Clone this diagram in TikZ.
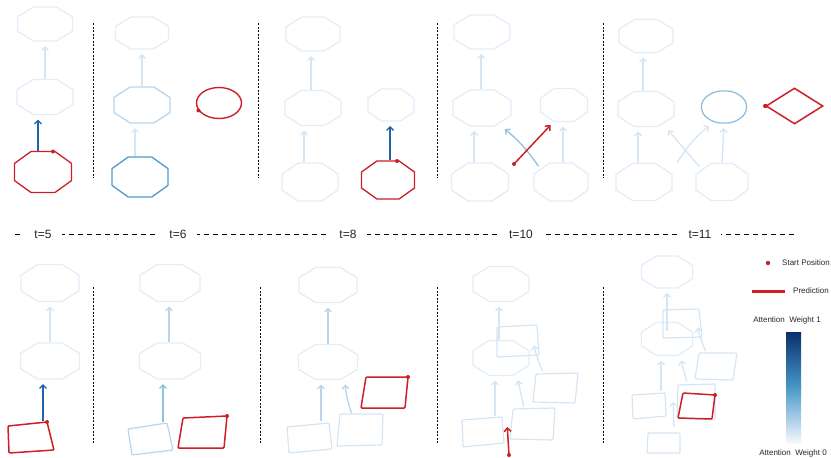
\documentclass[tikz,border=0pt]{standalone}
\usepackage{fontspec}
\setmainfont{Liberation Sans}
\usetikzlibrary{arrows.meta, positioning, shapes.geometric}
\definecolor{attn0}{HTML}{E2EDF8}
\definecolor{attn1}{HTML}{D4E5F4}
\definecolor{attn2}{HTML}{BAD5EB}
\definecolor{attn3}{HTML}{8EC1DE}
\definecolor{attn4}{HTML}{4F9BCB}
\definecolor{attn5}{HTML}{1F63AC}
\definecolor{bartop}{HTML}{08306B}
\definecolor{barhigh}{HTML}{2171B5}
\definecolor{barmid}{HTML}{4A98C9}
\definecolor{barlow}{HTML}{A3CDE3}
\definecolor{barzero}{HTML}{F3F8FD}
\definecolor{predred}{HTML}{CC1F26}

\begin{document}
\begin{tikzpicture}[x=1pt, y=-1pt,
  pics/octo/.style n args={3}{code={
    \draw[draw=#3, line width=1.3pt, line join=round]
      ({-#1/2},{-0.21*#2}) -- ({-0.21*#1},{-#2/2}) -- ({0.21*#1},{-#2/2})
      -- ({#1/2},{-0.21*#2}) -- ({#1/2},{0.21*#2}) -- ({0.21*#1},{#2/2})
      -- ({-0.21*#1},{#2/2}) -- ({-#1/2},{0.21*#2}) -- cycle;
    \coordinate (-n) at (0,{-#2/2});
    \coordinate (-s) at (0,{#2/2});
    \coordinate (-w) at ({-#1/2},0);
    \coordinate (-e) at ({#1/2},0);
  }},
  flow/.style={-{Straight Barb[length=3.5pt,width=7pt]}, draw=#1,
    line width=1.3pt, shorten <=1pt, shorten >=5pt},
  flow/.default=attn1,
  qd/.style={draw=#1, line width=1.2pt, rounded corners=1pt},
  qd/.default=attn1,
  pred/.style={draw=predred, line width=1.5pt, rounded corners=1pt},
  startdot/.style={fill=predred},
  sep/.style={black, line width=1pt, dash pattern=on 2pt off 1.5pt},
  tline/.style={black, line width=1pt, dash pattern=on 5pt off 4pt},
  tlab/.style={fill=white, inner xsep=10pt, inner ysep=2pt, text=black!85,
    font=\fontsize{12}{14}\selectfont},
  lgtext/.style={font=\fontsize{8}{10}\selectfont, inner sep=0pt, text=black!85}]
  \useasboundingbox (0,0) rectangle (831,458);

  % separators
  \foreach \x in {93,258,437,603}
    \draw[sep] (\x,23) -- (\x,178);
  \foreach \x in {93,260,437,603}
    \draw[sep] (\x,287) -- (\x,443);

  % Top row, panel 1
  \pic (t1t) at (45,24) {octo={55}{34}{attn0}};
  \pic (t1m) at (45,97) {octo={56}{35}{attn0}};
  \pic (t1b) at (43,172) {octo={57}{41}{predred}};
  \draw[flow] (t1m-n) -- (t1t-s);
  \draw[flow=attn5] ([xshift=-5pt]t1b-n) -- ([xshift=-7pt]t1m-s);
  \fill[startdot] ([xshift=10pt]t1b-n) circle (2pt);

  % Top row, panel 2
  \pic (t2t) at (142,33) {octo={53}{32}{attn0}};
  \pic (t2m) at (142,105) {octo={56}{36}{attn2}};
  \pic (t2b) at (140,177) {octo={56}{40}{attn4}};
  \node[ellipse, draw=predred, line width=1.4pt, inner sep=0pt,
    minimum width=45pt, minimum height=31pt] (t2c) at (219,103) {};
  \draw[flow] (t2m-n) -- (t2t-s);
  \draw[flow] ([xshift=-5pt]t2b-n) -- ([xshift=-7pt]t2m-s);
  \fill[startdot] (t2c.200) circle (2pt);

  % Top row, panel 3
  \pic (t3t) at (313,34) {octo={54}{34}{attn0}};
  \pic (t3m) at (313,108) {octo={56}{35}{attn0}};
  \pic (t3b) at (310,182) {octo={56}{38}{attn0}};
  \pic (t3r) at (391,105) {octo={46}{32}{attn0}};
  \pic (t3p) at (388,180) {octo={53}{38}{predred}};
  \draw[flow] ([xshift=-2pt]t3m-n) -- ([xshift=-2pt]t3t-s);
  \draw[flow] ([xshift=-6pt]t3b-n) -- ([xshift=-9pt]t3m-s);
  \draw[flow=attn5] ([xshift=2pt]t3p-n) -- ([xshift=-1pt]t3r-s);
  \fill[startdot] ([xshift=9pt]t3p-n) circle (2pt);

  % Top row, panel 4
  \pic (t4t) at (482,32) {octo={56}{34}{attn0}};
  \pic (t4m) at (482,108) {octo={58}{36}{attn0}};
  \pic (t4b) at (480,182) {octo={57}{38}{attn0}};
  \pic (t4r) at (564,105) {octo={47}{33}{attn0}};
  \pic (t4c) at (561,182) {octo={54}{38}{attn0}};
  \coordinate (t4s) at (514,164);
  \draw[flow] ([xshift=-1pt]t4m-n) -- ([xshift=-1pt]t4t-s);
  \draw[flow] ([xshift=-6pt]t4b-n) -- ([xshift=-8pt]t4m-s);
  \draw[flow] ([xshift=2pt]t4c-n) -- ([xshift=-1pt]t4r-s);
  \draw[flow=attn3] ([xshift=-22pt,yshift=-4pt]t4c-n)
    to[bend right=8] ([xshift=19pt]t4m-s);
  \draw[flow=predred, line width=1.5pt] (t4s) -- ([xshift=-10pt]t4r-s);
  \fill[startdot] (t4s) circle (2pt);

  % Top row, panel 5
  \pic (t5t) at (646,36) {octo={54}{33}{attn0}};
  \pic (t5m) at (646,109) {octo={56}{35}{attn0}};
  \pic (t5b) at (644,182) {octo={56}{37}{attn0}};
  \pic[rounded corners=6pt] (t5r) at (724,107) {octo={45}{32}{attn3}};
  \pic (t5c) at (722,182) {octo={52}{37}{attn0}};
  \node[diamond, draw=predred, line width=1.5pt, inner sep=0pt,
    minimum width=57pt, minimum height=36pt] (t5d) at (794.5,106) {};
  \coordinate (t5q) at (677,163);
  \draw[flow] ([xshift=-3pt]t5m-n) -- ([xshift=-3pt]t5t-s);
  \draw[flow] ([xshift=-6pt]t5b-n) -- ([xshift=-8pt]t5m-s);
  \draw[flow] ([xshift=-22pt,yshift=-4pt]t5c-n) -- ([xshift=19pt]t5m-s);
  \draw[flow] (t5q) to[bend left=10] ([xshift=-11pt]t5r-s);
  \draw[flow] (t5c-n) -- (t5r-s);
  \fill[startdot] (t5d.west) circle (2.2pt);

  % Time line
  \coordinate (tl0) at (15,234);
  \coordinate (tl1) at (797,234);
  \draw[tline] (tl0) -- (tl1);
  \node[tlab] (lt5) at (43,234) {t=5};
  \node[tlab] (lt6) at (178,234) {t=6};
  \node[tlab] (lt8) at (348,234) {t=8};
  \node[tlab] (lt10) at (521,234) {t=10};
  \node[tlab] (lt11) at (700,234) {t=11};

  % Bottom row, panel 1
  \pic (b1t) at (50,283) {octo={58}{37}{attn0}};
  \pic (b1m) at (50,361) {octo={59}{36}{attn0}};
  \draw[flow] (b1m-n) -- (b1t-s);
  \draw[pred] (8,426) -- (47,422) -- (54,450) -- (9,453) -- cycle;
  \coordinate (b1s) at (43,422);
  \draw[flow=attn5] (b1s) -- ([xshift=-7pt]b1m-s);
  \fill[startdot] (47,422) circle (2pt);

  % Bottom row, panel 2
  \pic (b2t) at (170,283) {octo={60}{37}{attn0}};
  \pic (b2m) at (170,361) {octo={61}{36}{attn0}};
  \draw[flow=attn2] ([xshift=-1pt]b2m-n) -- ([xshift=-1pt]b2t-s);
  \draw[qd=attn2] (128,429) -- (167,423) -- (173,450) -- (132,455) -- cycle;
  \coordinate (b2s) at (163,423);
  \draw[flow=attn3] (b2s) -- ([xshift=-7pt]b2m-s);
  \draw[pred] (183,418) -- (227,416) -- (224,448) -- (178,448) -- cycle;
  \fill[startdot] (227,416) circle (2pt);

  % Bottom row, panel 3
  \pic (b3t) at (328,285) {octo={58}{35}{attn0}};
  \pic (b3m) at (328,362) {octo={59}{35}{attn0}};
  \draw[flow=attn2] (b3m-n) -- (b3t-s);
  \draw[qd] (287,427) -- (329,423) -- (332,449) -- (289,453) -- cycle;
  \draw[qd] (340,414) -- (383,414) -- (382,445) -- (337,446) -- cycle;
  \coordinate (b3a) at (321,422);
  \coordinate (b3b) at (352,414);
  \draw[flow=attn2] (b3a) -- ([xshift=-7pt]b3m-s);
  \draw[flow=attn2] (b3b) to[bend left=8] ([xshift=17pt]b3m-s);
  \draw[pred] (366,377) -- (408,377) -- (405,408) -- (361,408) -- cycle;
  \fill[startdot] (408,377) circle (2pt);

  % Bottom row, panel 4
  \pic (b4t) at (501,284) {octo={56}{35}{attn0}};
  \pic (b4m) at (501,358) {octo={56}{35}{attn0}};
  \draw[qd] (497,327) -- (537,325) -- (539,355) -- (497,357) -- cycle;
  \draw[qd] (536,374) -- (578,373) -- (575,403) -- (533,402) -- cycle;
  \draw[qd] (513,409) -- (555,408) -- (553,440) -- (510,439) -- cycle;
  \draw[qd] (462,420) -- (502,417) -- (504,443) -- (463,447) -- cycle;
  \coordinate (b4o) at (543,372);
  \coordinate (b4l) at (495,417);
  \coordinate (b4n) at (524,408);
  \coordinate (b4s) at (509,455);
  \coordinate (b4e) at (507,422);
  \draw[flow] ([xshift=-2pt]b4m-n) -- ([xshift=-2pt]b4t-s);
  \draw[flow] (b4o) to[bend left=6] ([xshift=32pt]b4m-n);
  \draw[flow] (b4l) -- ([xshift=-6pt]b4m-s);
  \draw[flow] (b4n) -- ([xshift=16pt]b4m-s);
  \draw[flow=predred, line width=1.5pt] (b4s) -- (b4e);
  \fill[startdot] (b4s) circle (2pt);

  % Bottom row, panel 5
  \pic (b5t) at (667,272) {octo={51}{32}{attn0}};
  \pic (b5m) at (667,339) {octo={51}{33}{attn0}};
  \draw[qd] (663,310) -- (699,309) -- (702,337) -- (663,338) -- cycle;
  \draw[qd] (699,353) -- (737,353) -- (733,380) -- (695,379) -- cycle;
  \draw[qd] (678,385) -- (715,384) -- (715,420) -- (677,418) -- cycle;
  \draw[qd] (632,395) -- (665,393) -- (666,416) -- (633,419) -- cycle;
  \draw[qd] (648,433) -- (680,433) -- (680,453) -- (647,453) -- cycle;
  \coordinate (b5a) at (667,332);
  \coordinate (b5r) at (706,352);
  \coordinate (b5l) at (661,392);
  \coordinate (b5n) at (687,383);
  \coordinate (b5b) at (674,428);
  \coordinate (b5e) at (673,397);
  \draw[flow] (b5a) -- (b5t-s);
  \draw[flow] (b5r) to[bend left=6] ([xshift=30pt]b5m-n);
  \draw[flow] (b5l) -- ([xshift=-6pt]b5m-s);
  \draw[flow] (b5n) -- ([xshift=13pt]b5m-s);
  \draw[flow] (b5b) -- (b5e);
  \draw[pred] (683,393) -- (715,395) -- (712,419) -- (678,418) -- cycle;
  \fill[startdot] (715,395) circle (2pt);

  % Legend
  \fill[startdot] (768,263) circle (2.2pt);
  \node[lgtext, anchor=west] (lgstart) at (782,263) {Start Position};
  \coordinate (lgl0) at (752,291);
  \coordinate (lgl1) at (785,291);
  \draw[predred, line width=3pt] (lgl0) -- (lgl1);
  \node[lgtext, anchor=west] (lgpred) at (793,291) {Prediction};
  \node[lgtext] (lgone) at (787,320) {Attention\ \ Weight 1};
  \shade[top color=bartop, middle color=barhigh, bottom color=barmid]
    (786,332) rectangle (801,388);
  \shade[top color=barmid, middle color=barlow, bottom color=barzero]
    (786,387.5) rectangle (801,443);
  \node[lgtext] (lgzero) at (793,453) {Attention\ \ Weight 0};
\end{tikzpicture}
\end{document}
